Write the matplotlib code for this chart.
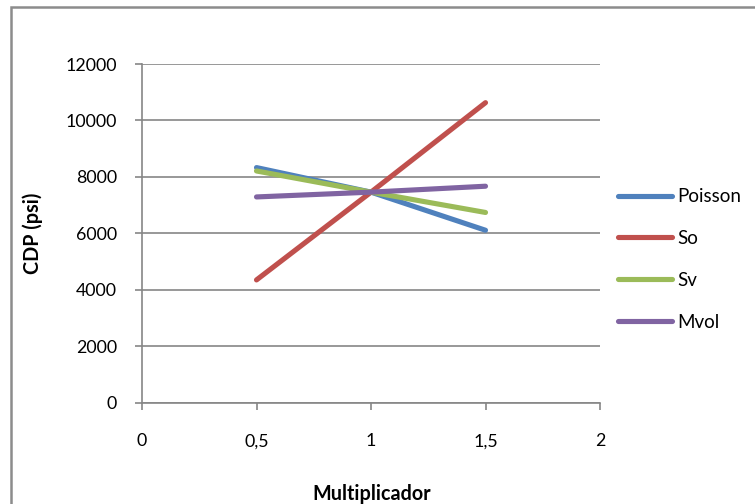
import matplotlib.pyplot as plt
from matplotlib.patches import Rectangle
from matplotlib.ticker import FuncFormatter

plt.rcParams['font.family'] = ['Lato', 'DejaVu Sans']

multiplicador = [0.5, 1.0, 1.5]
poisson = [8330, 7460, 6110]
so = [4350, 7460, 10630]
sv = [8210, 7460, 6740]
mvol = [7290, 7460, 7670]

series = [('Poisson', poisson, '#4F81BD'),
          ('So', so, '#C0504D'),
          ('Sv', sv, '#9BBB59'),
          ('Mvol', mvol, '#8064A2')]

W, H = 755, 504
fig = plt.figure(figsize=(7.55, 5.04), dpi=100)
ax = fig.add_axes([142/W, 1-402.7/H, (600-142)/W, (402.7-64)/H])

# outer chart frame (cut off at right/bottom like the source)
fig.patches.append(Rectangle((11/W, -0.1), 1.2, 1-7/H+0.1, transform=fig.transFigure,
                             fill=False, edgecolor='#8C8C8C', lw=1.8))

for name, vals, col in series:
    ax.plot(multiplicador, vals, color=col, lw=3.7, solid_capstyle='round', label=name)

ax.set_xlim(0, 2)
ax.set_ylim(0, 12000)
ax.set_xticks([0, 0.5, 1, 1.5, 2])
ax.set_yticks(range(0, 12001, 2000))
ax.xaxis.set_major_formatter(FuncFormatter(lambda v, p: ('%g' % v).replace('.', ',')))
ax.yaxis.grid(True, color='#868686', lw=1.2)
ax.set_axisbelow(True)
for s in ['top', 'right']:
    ax.spines[s].set_visible(False)
for s in ['left', 'bottom']:
    ax.spines[s].set_color('#868686')
    ax.spines[s].set_linewidth(1.2)
ax.tick_params(direction='out', length=5, width=1.2, color='#868686', labelsize=12.8)
ax.tick_params(axis='x', pad=17)
ax.tick_params(axis='y', pad=13)

ax.set_xlabel('Multiplicador', fontsize=14.2, fontweight='bold', va='center')
ax.xaxis.set_label_coords(0.502, -0.27)
ax.set_ylabel('CDP (psi)', fontsize=14.2, fontweight='bold', va='center')
ax.yaxis.set_label_coords(-0.238, 0.5)

ax.legend(loc='center left', bbox_to_anchor=(1.039, 0.423), frameon=False,
          borderpad=0, borderaxespad=0, fontsize=13.5,
          handlelength=2.9, handletextpad=0.27, labelspacing=1.32)

fig.savefig('out.png', dpi=100)
